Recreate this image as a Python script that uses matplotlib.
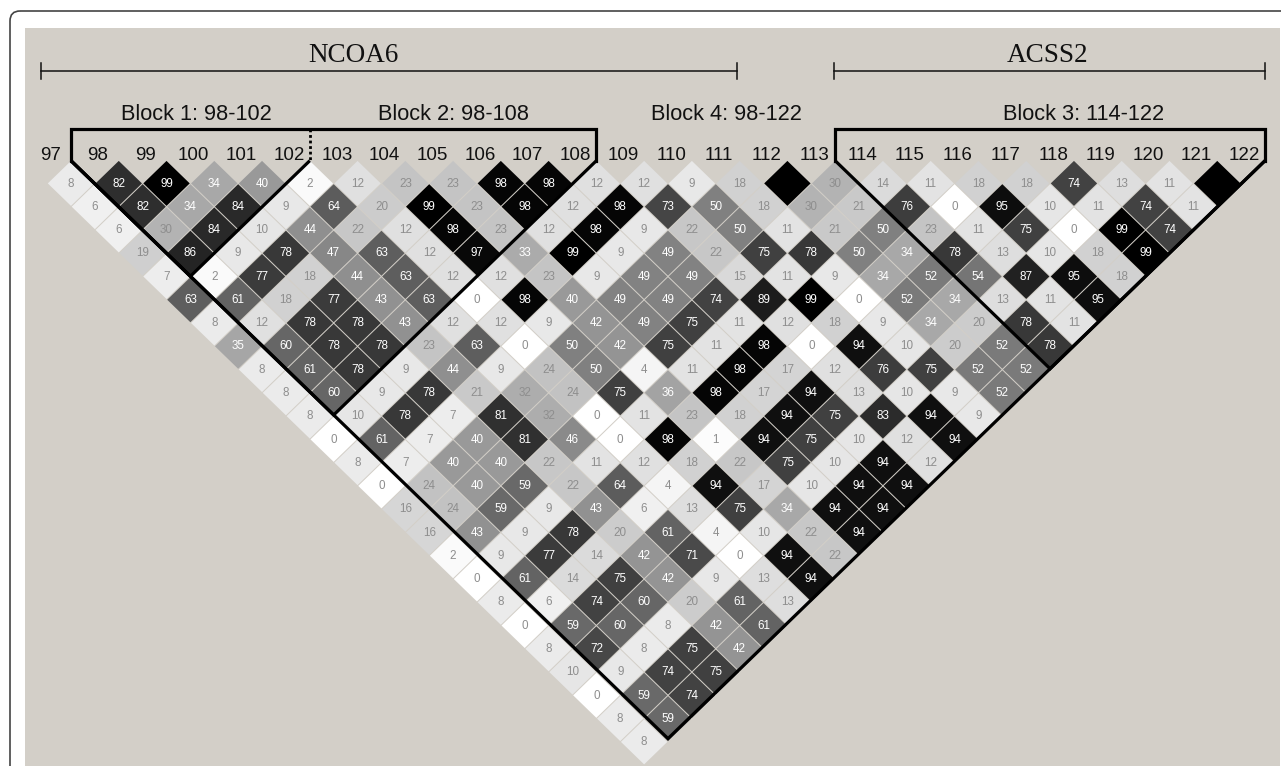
import matplotlib
matplotlib.use("Agg")
import matplotlib.pyplot as plt
from matplotlib.patches import FancyBboxPatch, Rectangle, Polygon

# Pairwise LD values; each row holds marker pairs a fixed distance apart. None = solid black cell with no label.
row_01 = [8, 82, 99, 34, 40, 2, 12, 23, 23, 98, 98, 12, 12, 9, 18, None, 30, 14, 11, 18, 18, 74, 13, 11, None]
row_02 = [6, 82, 34, 84, 9, 64, 20, 99, 23, 98, 12, 98, 73, 50, 18, 30, 21, 76, 0, 95, 10, 11, 74, 11]
row_03 = [6, 30, 84, 10, 44, 22, 12, 98, 23, 12, 98, 9, 22, 50, 11, 21, 50, 23, 11, 75, 0, 99, 74]
row_04 = [19, 86, 9, 78, 47, 63, 12, 97, 33, 99, 9, 49, 22, 75, 78, 50, 34, 78, 13, 10, 18, 99]
row_05 = [7, 2, 77, 18, 44, 63, 12, 12, 23, 9, 49, 49, 15, 11, 9, 34, 52, 54, 87, 95, 18]
row_06 = [63, 61, 18, 77, 43, 63, 0, 98, 40, 49, 49, 74, 89, 99, 0, 52, 34, 13, 11, 95]
row_07 = [8, 12, 78, 78, 43, 12, 12, 9, 42, 49, 75, 11, 12, 18, 9, 34, 20, 78, 11]
row_08 = [35, 60, 78, 78, 23, 63, 0, 50, 42, 75, 11, 98, 0, 94, 10, 20, 52, 78]
row_09 = [8, 61, 78, 9, 44, 9, 24, 50, 4, 11, 98, 17, 12, 76, 75, 52, 52]
row_10 = [8, 60, 9, 78, 21, 32, 24, 75, 36, 98, 17, 94, 13, 10, 9, 52]
row_11 = [8, 10, 78, 7, 81, 32, 0, 11, 23, 18, 94, 75, 83, 94, 9]
row_12 = [0, 61, 7, 40, 81, 46, 0, 98, 1, 94, 75, 10, 12, 94]
row_13 = [8, 7, 40, 40, 22, 11, 12, 18, 22, 75, 10, 94, 12]
row_14 = [0, 24, 40, 59, 22, 64, 4, 94, 17, 10, 94, 94]
row_15 = [16, 24, 59, 9, 43, 6, 13, 75, 34, 94, 94]
row_16 = [16, 43, 9, 78, 20, 61, 4, 10, 22, 94]
row_17 = [2, 9, 77, 14, 42, 71, 0, 94, 22]
row_18 = [0, 61, 14, 75, 42, 9, 13, 94]
row_19 = [8, 6, 74, 60, 20, 61, 13]
row_20 = [0, 59, 60, 8, 42, 61]
row_21 = [8, 72, 8, 75, 42]
row_22 = [10, 9, 74, 75]
row_23 = [0, 59, 74]
row_24 = [8, 59]
row_25 = [8]

markers = list(range(97, 123))
block_names = ["Block 1: 98-102", "Block 2: 98-108", "Block 3: 114-122", "Block 4: 98-122"]
block_label_x = [196, 454, 1084, 726]
block_spans = [(98, 102), (98, 108), (114, 122), (98, 122)]
genes = ["NCOA6", "ACSS2"]

BG = "#d3cfc8"
DX, DY = 23.88, 23.27         # cell pitch (half-diagonal step)
AX, AY = 23.2, 22.5           # half-diagonals of one drawn cell
X0, Y0 = 71.0, 183.4          # centre of the first cell
W, H = 1281, 766

fig = plt.figure(figsize=(W / 100, H / 100), dpi=100, facecolor="white")
ax = fig.add_axes([0, 0, 1, 1])
ax.set_xlim(0, W)
ax.set_ylim(H, 0)
ax.axis("off")

ax.add_patch(Rectangle((25, 28), 1255, 738, fc=BG, ec="none", zorder=0))
ax.add_patch(FancyBboxPatch((10, 11), 1400, 900, boxstyle="round,pad=0,rounding_size=10",
                            fc="none", ec="#444444", lw=1.2, zorder=1))

rows = [row_01, row_02, row_03, row_04, row_05, row_06, row_07, row_08, row_09, row_10,
        row_11, row_12, row_13, row_14, row_15, row_16, row_17, row_18, row_19, row_20,
        row_21, row_22, row_23, row_24, row_25]

for d, row in enumerate(rows):
    for k, v in enumerate(row):
        cx = X0 + (2 * k + d) * DX
        cy = Y0 + d * DY
        level = 100 if v is None else v
        g = max(0.0, 1 - level / 100) if level < 99 else 0.0
        ax.add_patch(Polygon([(cx - AX, cy), (cx, cy - AY), (cx + AX, cy), (cx, cy + AY)],
                             closed=True, fc=(g, g, g), ec="none", zorder=2))
        if v is not None:
            ax.text(cx, cy + 0.2, str(v), ha="center", va="center", fontsize=8.4,
                    family="Liberation Sans",
                    color="white" if v >= 33 else "#8e8e8e", zorder=3)

# Marker labels
for i, m in enumerate(markers):
    ax.text(X0 - 20.8 + i * 2 * DX, 155, str(m), ha="center", va="center",
            fontsize=13.5, family="Liberation Sans", color="#111111", zorder=4)

YTIP = 160.7
YBAR = 129
SLOPE = 0.968
LW = 2.3


def edge_x(m):
    """x of the wedge corner that opens the column of marker m."""
    return X0 + (m - markers[1]) * 2 * DX


spans = []
for first, last in block_spans:
    left, right = edge_x(first), edge_x(last + 1)
    mid = (left + right) / 2
    ax.plot([left, mid, right], [YTIP, YTIP + (right - left) / 2 * SLOPE, YTIP],
            color="black", lw=LW, solid_joinstyle="miter", solid_capstyle="butt", zorder=5)
    spans.append((left, right))

# Bars above the labels
(l1, r1), (l2, r2), (l3, r3), _ = spans
ax.plot([l2, l2, r2, r2], [YTIP, YBAR, YBAR, YTIP], color="black", lw=LW,
        solid_joinstyle="miter", zorder=5)
ax.plot([r1, r1], [YBAR, YTIP], color="black", lw=2.0, ls=(0, (1, 1)), zorder=5)
ax.plot([l3, l3, r3, r3], [YTIP, YBAR, YBAR, YTIP], color="black", lw=LW,
        solid_joinstyle="miter", zorder=5)

# Block labels
for name, cx in zip(block_names, block_label_x):
    ax.text(cx, 115, name, ha="center", va="center", fontsize=15.7,
            family="Liberation Sans", color="#111111", zorder=4)

# Gene brackets
for gene, (x1, x2), tx in zip(genes, [(41, 737), (833.5, 1265)], [353, 1048]):
    ax.plot([x1, x2], [71, 71], color="#111111", lw=1.1, zorder=4)
    for x in (x1, x2):
        ax.plot([x, x], [63, 79], color="#111111", lw=1.1, zorder=4)
    ax.text(tx, 56, gene, ha="center", va="center", fontsize=19.5,
            family="Liberation Serif", color="#111111", zorder=4)

fig.savefig("out.png", dpi=100, facecolor="white")
